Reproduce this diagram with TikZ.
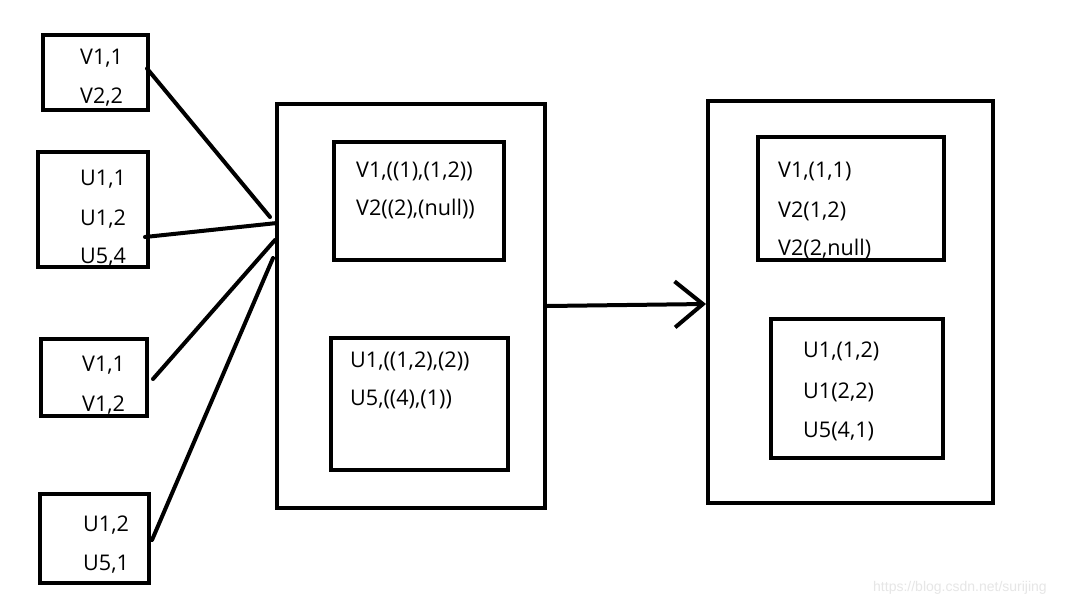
\documentclass[tikz,border=0pt]{standalone}
\usepackage{fontspec}
\setmainfont{Open Sans}
\newfontfamily\wmfont{Liberation Sans}
\usetikzlibrary{arrows.meta}
\definecolor{wm}{HTML}{E6E6E6}
\tikzset{
  box/.style={draw, line width=4pt, inner sep=0pt},
  lbl/.style={anchor=base west, inner sep=0pt, font=\fontsize{21.6}{25}\selectfont},
  conn/.style={line width=4pt, line cap=round},
}
\begin{document}
\begin{tikzpicture}[x=1pt,y=-1pt]
\useasboundingbox[fill=white] (0,0) rectangle (1077,603);
% left boxes
\node[box, minimum width=105pt, minimum height=75pt] (A) at (95.5,72.5) {};
\node[box, minimum width=110pt, minimum height=115pt] (B) at (93,209.5) {};
\node[box, minimum width=106pt, minimum height=77pt] (C) at (94,377.5) {};
\node[box, minimum width=109pt, minimum height=89pt] (D) at (94.5,538.5) {};
% middle
\node[box, minimum width=268pt, minimum height=404pt] (mid) at (411,306) {};
\node[box, minimum width=170pt, minimum height=118pt] (M1) at (419,201) {};
\node[box, minimum width=177pt, minimum height=132pt] (M2) at (419.5,404) {};
% right
\node[box, minimum width=285pt, minimum height=402pt] (right) at (850.5,302) {};
\node[box, minimum width=186pt, minimum height=123pt] (R1) at (851,198.5) {};
\node[box, minimum width=172pt, minimum height=139pt] (R2) at (857,388.5) {};
% texts
\node[lbl] (a1) at (80,64) {V1,1};
\node[lbl] (a2) at (80,103) {V2,2};
\node[lbl] (b1) at (80,185) {U1,1};
\node[lbl] (b2) at (80,225) {U1,2};
\node[lbl] (b3) at (80,263) {U5,4};
\node[lbl] (c1) at (82,371) {V1,1};
\node[lbl] (c2) at (82,411) {V1,2};
\node[lbl] (d1) at (83,531) {U1,2};
\node[lbl] (d2) at (83,570) {U5,1};
\node[lbl] (m11) at (356,177) {V1,((1),(1,2))};
\node[lbl] (m12) at (356,215) {V2((2),(null))};
\node[lbl] (m21) at (350,367) {U1,((1,2),(2))};
\node[lbl] (m22) at (350,405) {U5,((4),(1))};
\node[lbl] (r11) at (778,177) {V1,(1,1)};
\node[lbl] (r12) at (778,217) {V2(1,2)};
\node[lbl] (r13) at (778,255) {V2(2,null)};
\node[lbl] (r21) at (803,357) {U1,(1,2)};
\node[lbl] (r22) at (803,398) {U1(2,2)};
\node[lbl] (r23) at (803,437) {U5(4,1)};
% connectors
\draw[conn] ([shift={(-3pt,4pt)}]A.east) -- ([shift={(-5pt,89pt)}]mid.west);
\draw[conn] ([shift={(-5pt,-27.5pt)}]B.east) -- ([shift={(2pt,83pt)}]mid.west);
\draw[conn] ([shift={(4pt,-1.5pt)}]C.east) -- ([shift={(0pt,66pt)}]mid.west);
\draw[conn] ([shift={(1pt,-1.5pt)}]D.east) -- ([shift={(-2pt,48pt)}]mid.west);
\draw[line width=4pt, -{Straight Barb[length=28pt,width=46pt,line width=4pt]}] (mid.east) -- ([yshift=-2pt]right.west);
% watermark
\node[anchor=base west, inner sep=0pt, text=wm, font=\wmfont\fontsize{14}{16}\selectfont] (wmk) at (873,591) {https://blog.csdn.net/surijing};
\end{tikzpicture}
\end{document}
